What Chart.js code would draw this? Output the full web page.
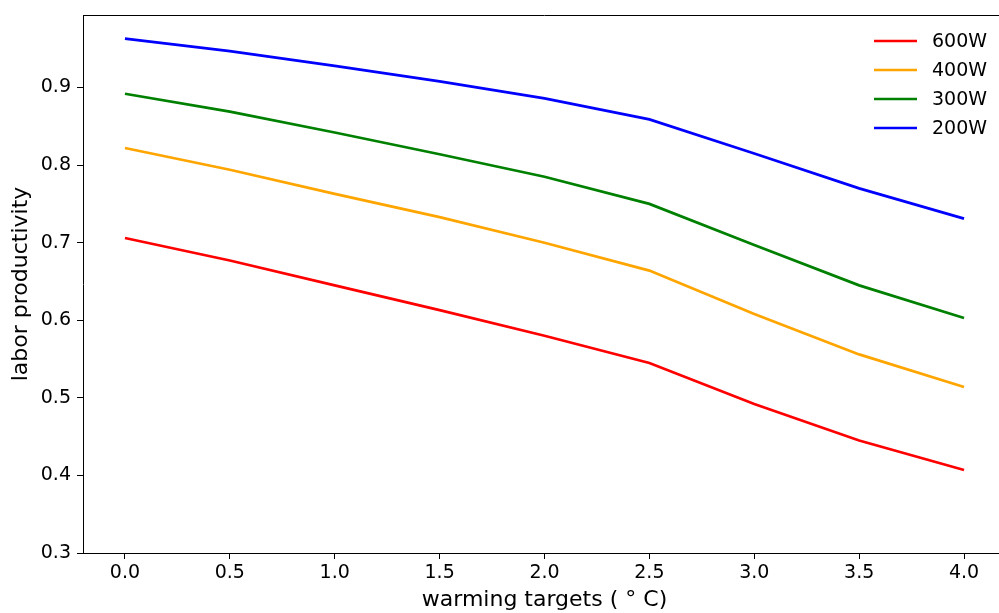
<!DOCTYPE html>
<html>
<head>
    <meta charset="UTF-8">
    <title>labor productivity</title>
    <style>
        html, body {
            margin: 0;
            padding: 0;
            overflow: hidden;
            background: white;
        }
        #wrap {
            position: absolute;
            left: 0;
            top: 0;
            width: 1010px;
            height: 613px;
        }
    </style>
    <script src="https://cdn.jsdelivr.net/npm/chart.js"></script>
</head>
<body>
    <div id="wrap"><canvas id="grafico" width="1010" height="613"></canvas></div>

    <script>
        // dados
        var targets = [0.0, 0.5, 1.0, 1.5, 2.0, 2.5, 3.0, 3.5, 4.0];
        var yTicks = [0.3, 0.4, 0.5, 0.6, 0.7, 0.8, 0.9];
        var seriesNames = ['600W', '400W', '300W', '200W'];
        var seriesColors = ['#ff0000', '#ffa500', '#008000', '#0000ff'];
        var w600 = [0.706, 0.677, 0.645, 0.613, 0.580, 0.545, 0.492, 0.445, 0.407];
        var w400 = [0.822, 0.794, 0.763, 0.733, 0.700, 0.664, 0.608, 0.556, 0.514];
        var w300 = [0.892, 0.869, 0.842, 0.814, 0.785, 0.750, 0.697, 0.645, 0.603];
        var w200 = [0.963, 0.947, 0.928, 0.908, 0.886, 0.859, 0.815, 0.770, 0.731];
        var seriesValues = [w600, w400, w300, w200];

        var fonte = 'DejaVu Sans';

        function pontos(valores) {
            return targets.map(function (x, i) { return { x: x, y: valores[i] }; });
        }

        var datasets = seriesNames.map(function (nome, i) {
            return {
                label: nome,
                data: pontos(seriesValues[i]),
                borderColor: seriesColors[i],
                backgroundColor: seriesColors[i],
                borderWidth: 2.7,
                pointRadius: 0,
                tension: 0,
                fill: false
            };
        });

        // moldura de cima + legenda no canto superior direito
        var extras = {
            id: 'extras',
            afterDraw: function (chart) {
                var ctx = chart.ctx;
                var area = chart.chartArea;
                ctx.save();
                ctx.strokeStyle = '#000';
                ctx.lineWidth = 1;
                ctx.beginPath();
                ctx.moveTo(area.left, area.top + 0.5);
                ctx.lineTo(area.right, area.top + 0.5);
                ctx.stroke();

                ctx.font = '19px "' + fonte + '"';
                ctx.textBaseline = 'middle';
                ctx.textAlign = 'left';
                chart.data.datasets.forEach(function (ds, i) {
                    var y = 41 + i * 29;
                    ctx.strokeStyle = ds.borderColor;
                    ctx.lineWidth = 2.7;
                    ctx.beginPath();
                    ctx.moveTo(874, y);
                    ctx.lineTo(917, y);
                    ctx.stroke();
                    ctx.fillStyle = '#000';
                    ctx.fillText(ds.label, 932, y + 1);
                });
                ctx.restore();
            }
        };

        new Chart(document.getElementById('grafico').getContext('2d'), {
            type: 'line',
            data: { datasets: datasets },
            plugins: [extras],
            options: {
                responsive: false,
                animation: false,
                layout: { padding: { left: 0, right: 4, top: 15, bottom: 0 } },
                plugins: {
                    legend: { display: false },
                    tooltip: { enabled: false }
                },
                scales: {
                    x: {
                        type: 'linear',
                        min: -0.2,
                        max: 4.2,
                        afterFit: function (s) { s.height = 60; },
                        afterBuildTicks: function (s) {
                            s.ticks = targets.map(function (v) { return { value: v }; });
                        },
                        ticks: {
                            color: '#000',
                            font: { family: fonte, size: 19 },
                            padding: 3,
                            maxRotation: 0,
                            callback: function (v) { return Number(v).toFixed(1); }
                        },
                        grid: {
                            drawOnChartArea: false,
                            drawTicks: true,
                            tickLength: 6,
                            color: '#000',
                            lineWidth: 1
                        },
                        border: { display: true, color: '#000', width: 1 },
                        title: {
                            display: true,
                            text: 'warming targets ( ° C)',
                            color: '#000',
                            font: { family: fonte, size: 22 },
                            padding: { top: 0, bottom: 0 }
                        }
                    },
                    y: {
                        min: 0.3,
                        max: 0.9935,
                        afterFit: function (s) {
                            s.width = 83;
                            s.paddingTop = 15;
                        },
                        afterBuildTicks: function (s) {
                            s.ticks = yTicks.map(function (v) { return { value: v }; });
                        },
                        ticks: {
                            color: '#000',
                            font: { family: fonte, size: 19 },
                            padding: 6,
                            callback: function (v) { return Number(v).toFixed(1); }
                        },
                        grid: {
                            drawOnChartArea: false,
                            drawTicks: true,
                            tickLength: 6,
                            color: '#000',
                            lineWidth: 1
                        },
                        border: { display: true, color: '#000', width: 1 },
                        title: {
                            display: true,
                            text: 'labor productivity',
                            color: '#000',
                            font: { family: fonte, size: 22 },
                            padding: { top: 8, bottom: 0 }
                        }
                    }
                }
            }
        });
    </script>
</body>
</html>
